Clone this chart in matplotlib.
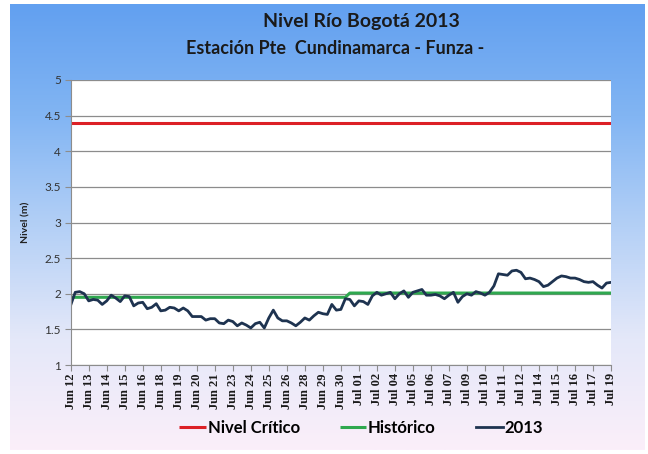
import numpy as np
import matplotlib
matplotlib.use('Agg')
import matplotlib.pyplot as plt
from matplotlib.colors import LinearSegmentedColormap

# ---------------------------------------------------------------- data
tick_labels = ['Jun 12', 'Jun 13', 'Jun 14', 'Jun 15', 'Jun 16', 'Jun 18',
               'Jun 19', 'Jun 20', 'Jun 21', 'Jun 23', 'Jun 24', 'Jun 25',
               'Jun 26', 'Jun 28', 'Jun 29', 'Jun 30', 'Jul 01', 'Jul 02',
               'Jul 04', 'Jul 05', 'Jul 06', 'Jul 07', 'Jul 09', 'Jul 10',
               'Jul 11', 'Jul 12', 'Jul 14', 'Jul 15', 'Jul 16', 'Jul 17',
               'Jul 19']

# nivel 2013 [m], 4 lecturas por intervalo de etiqueta
nivel_2013 = [1.84, 2.02, 2.03, 2.00, 1.90, 1.92, 1.91, 1.85, 1.90, 1.98,
              1.94, 1.89, 1.97, 1.96, 1.83, 1.87, 1.88, 1.79, 1.81, 1.86,
              1.76, 1.77, 1.81, 1.80, 1.76, 1.80, 1.76, 1.68, 1.68, 1.68,
              1.63, 1.65, 1.65, 1.59, 1.58, 1.63, 1.61, 1.55, 1.59, 1.56,
              1.52, 1.58, 1.60, 1.52, 1.66, 1.77, 1.66, 1.62, 1.62, 1.59,
              1.55, 1.60, 1.66, 1.63, 1.69, 1.74, 1.72, 1.71, 1.85, 1.77,
              1.78, 1.93, 1.92, 1.83, 1.90, 1.89, 1.85, 1.97, 2.02, 1.98,
              2.00, 2.02, 1.93, 2.00, 2.04, 1.95, 2.02, 2.04, 2.06, 1.98,
              1.98, 1.99, 1.97, 1.93, 1.98, 2.02, 1.88, 1.96, 2.00, 1.98,
              2.03, 2.01, 1.98, 2.02, 2.11, 2.28, 2.27, 2.26, 2.32, 2.33,
              2.30, 2.21, 2.22, 2.20, 2.17, 2.10, 2.12, 2.17, 2.22, 2.25,
              2.24, 2.22, 2.22, 2.20, 2.17, 2.16, 2.17, 2.12, 2.08, 2.15,
              2.16]
historico = [1.95] * 62 + [2.01] * 59
nivel_critico = [4.4] * 121

x = np.arange(len(nivel_2013))

plt.rcParams['font.family'] = ['Lato', 'DejaVu Sans']

fig = plt.figure(figsize=(6.48, 4.54), dpi=100)
fig.patch.set_facecolor('white')

# gradient background
bg = fig.add_axes([10/648, 4/454, 635/648, 446/454])
cmap = LinearSegmentedColormap.from_list(
    'bg', ['#fbeffa', '#e4e8f9', '#b4d0f6', '#82b5f3', '#62a0f0'])
bg.imshow(np.linspace(0, 1, 256).reshape(-1, 1), cmap=cmap, aspect='auto',
          origin='lower', extent=[0, 1, 0, 1])
bg.set_axis_off()

ax = fig.add_axes([70.7/648, 1 - 365/454, (611 - 70.7)/648, (365 - 80)/454])
ax.set_facecolor('white')

ax.plot(x, nivel_critico, color='#dc2026', lw=2.2, label='Nivel Crítico',
        solid_capstyle='butt')
ax.plot(x, historico, color='#2fa84f', lw=2.2, label='Histórico',
        solid_capstyle='butt')
ax.plot(x, nivel_2013, color='#1e3350', lw=2.0, label='2013')

ax.set_xlim(0, len(x) - 1)
ax.set_ylim(1, 5)
ax.set_yticks(np.arange(1, 5.01, 0.5))
ax.set_yticklabels(['1', '1.5', '2', '2.5', '3', '3.5', '4', '4.5', '5'])
ax.set_xticks(np.arange(0, len(x), 4))
ax.set_xticklabels(tick_labels, rotation=90, family='Liberation Serif',
                   fontweight='bold', fontsize=9, color='#1a1a1a')
ax.grid(axis='y', color='#8c8c8c', lw=0.9)
ax.set_axisbelow(True)
for s in ['top', 'right']:
    ax.spines[s].set_visible(False)
for s in ['left', 'bottom']:
    ax.spines[s].set_color('#8c8c8c')
ax.tick_params(axis='y', colors='#8c8c8c', labelcolor='#333333',
               labelsize=8.5, length=4, pad=3)
ax.tick_params(axis='x', colors='#8c8c8c', labelcolor='#1a1a1a',
               length=4, pad=2)
ax.set_ylabel('Nivel (m)', fontsize=7.5, fontweight='bold', color='#222222',
              labelpad=10)

fig.text(361/648, 1 - 22/454, 'Nivel Río Bogotá 2013', ha='center',
         va='center', fontsize=14, fontweight='bold', color='#1a1a1a')
fig.text(335/648, 1 - 48/454, 'Estación Pte  Cundinamarca - Funza -',
         ha='center', va='center', fontsize=13, fontweight='bold',
         color='#1a1a1a')

fig.legend(loc='center', bbox_to_anchor=(361/648, 1 - 428/454), ncol=3,
           frameon=False, handlelength=1.6, handletextpad=0.1,
           columnspacing=2.4, prop={'weight': 'bold', 'size': 12})

fig.savefig('out.png', dpi=100)
